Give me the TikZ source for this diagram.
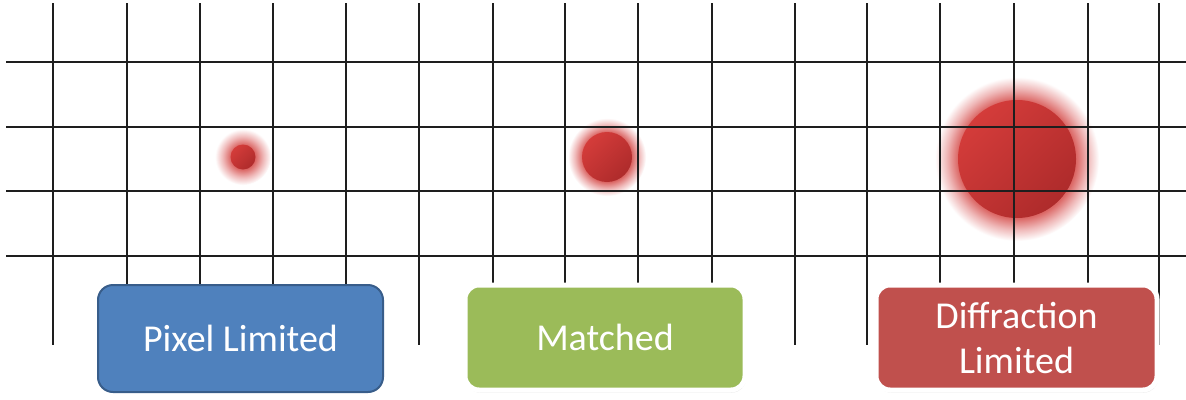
\documentclass[tikz,border=0pt]{standalone}
\usepackage{fontspec}
\setmainfont{Carlito}
\usetikzlibrary{shadows}
\definecolor{gridc}{HTML}{1E1E1E}
\definecolor{bluef}{HTML}{4F81BD}
\definecolor{blued}{HTML}{385D8A}
\definecolor{greenf}{HTML}{9BBB59}
\definecolor{redf}{HTML}{C0504D}
\definecolor{corel}{HTML}{D43C3A}
\definecolor{cored}{HTML}{AE2B2B}
\definecolor{glowa}{HTML}{DB6664}
\definecolor{glowb}{HTML}{EFB8B8}
\pgfdeclareradialshading{glowone}{\pgfpointorigin}{color(0bp)=(glowa); color(11bp)=(glowa); color(18bp)=(glowb); color(25bp)=(white); color(50bp)=(white)}
\pgfdeclareradialshading{glowtwo}{\pgfpointorigin}{color(0bp)=(glowa); color(16bp)=(glowa); color(20.5bp)=(glowb); color(25bp)=(white); color(50bp)=(white)}
\pgfdeclareradialshading{glowthree}{\pgfpointorigin}{color(0bp)=(glowa); color(18bp)=(glowa); color(21.5bp)=(glowb); color(25bp)=(white); color(50bp)=(white)}
\tikzset{
  gridline/.style={draw=gridc, line width=1.5pt},
  core/.style={left color=corel, right color=cored, shading angle=45},
  labelbox/.style={rectangle, rounded corners=14pt, inner sep=0pt, align=center,
    text=white, font=\fontsize{38}{45}\selectfont},
  framedbox/.style={labelbox, draw=white, line width=5pt,
    drop shadow={opacity=0.25, shadow xshift=1pt, shadow yshift=-2.5pt}}
}
\begin{document}
\begin{tikzpicture}[x=1pt, y=-1pt]
\useasboundingbox[fill=white] (0,0) rectangle (1186,399);
% spots
\shade[shading=glowone] (243,157) circle [radius=28];
\shade[core] (243,157) circle [radius=12.5];
\shade[shading=glowtwo] (607,157) circle [radius=39];
\shade[core] (607,157) circle [radius=25];
\shade[shading=glowthree] (1017,159) circle [radius=82];
\shade[core] (1017,159) circle [radius=59];
% grid
\foreach \gx in {53,127,200,273,346,419,493,565,638,712,795,867,940,1014,1088,1159}
  \draw[gridline] (\gx,3) -- (\gx,345);
\foreach \gy in {62,127,191,256}
  \draw[gridline] (6,\gy) -- (1186,\gy);
% boxes
\node[labelbox, fill=bluef, draw=blued, line width=2pt, rounded corners=15pt,
  minimum width=285pt, minimum height=107pt] (pixel) at (240.5,338.5) {Pixel Limited};
\node[framedbox, fill=greenf, minimum width=280pt, minimum height=105pt]
  (matched) at (605,337.5) {Matched};
\node[framedbox, fill=redf, minimum width=281pt, minimum height=105pt]
  (diffraction) at (1016.5,337.5) {Diffraction\\Limited};
\end{tikzpicture}
\end{document}
